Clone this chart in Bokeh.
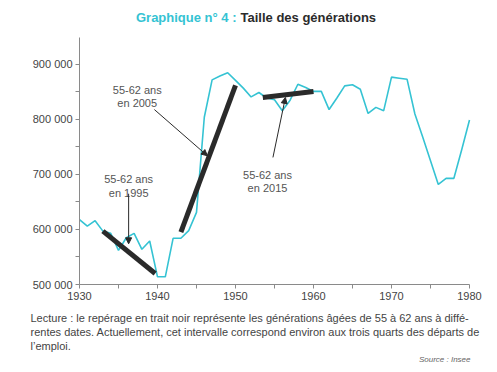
from bokeh.plotting import figure
from bokeh.models import Range1d, FixedTicker, Label, Arrow, NormalHead, ColumnDataSource, LinearAxis
from bokeh.embed import file_html
from bokeh.resources import INLINE

# ---- data ----
years = list(range(1930, 1981))
births = [618000, 606000, 616000, 597000, 593000, 562000, 585000, 593000, 564000, 579000,
          514000, 514000, 584000, 584000, 598000, 631000, 804000, 872000, 879000, 885000,
          871000, 857000, 841000, 849000, 839000, 836000, 816000, 835000, 864000, 858000,
          851000, 851000, 818000, 839000, 861000, 863000, 855000, 811000, 822000, 816000,
          877000, 875000, 873000, 810000, 768000, 725000, 682000, 693000, 693000, 745000,
          799000]

seg_labels = ["55-62 ans en 1995", "55-62 ans en 2005", "55-62 ans en 2015"]
seg_x0 = [1933, 1943, 1953.5]
seg_y0 = [597000, 595000, 840000]
seg_x1 = [1939.7, 1950, 1960]
seg_y1 = [520000, 862000, 851000]

y_ticks = [500000, 600000, 700000, 800000, 900000]
y_tick_labels = ["500 000", "600 000", "700 000", "800 000", "900 000"]
y_minor = [550000, 650000, 750000, 850000]
x_ticks = [1930, 1940, 1950, 1960, 1970, 1980]
x_minor = [1935, 1945, 1955, 1965, 1975]

title_a = "Graphique n° 4 :"
title_b = "Taille des générations"
caption = ["Lecture : le repérage en trait noir représente les générations âgées de 55 à 62 ans à diffé-",
           "rentes dates. Actuellement, cet intervalle correspond environ aux trois quarts des départs de",
           "l’emploi."]
source = "Source : Insee"

CYAN = "#35c3d3"
DARK = "#2a2a2a"
GREY = "#555555"
FONT = "Liberation Sans"

# ---- geometry (pixels) ----
W, H = 489, 364
L, R, T, B = 79, 469, 37, 284          # axis box in pixels
X0, X1, Y0, Y1 = 1930, 1980, 500000, 949000
sx = (R - L) / (X1 - X0)
sy = (B - T) / (Y1 - Y0)


def px2x(px):
    return X0 + (px - L) / sx


def py2y(py):
    return Y0 + (B - py) / sy


p = figure(width=W, height=H, output_backend="svg", toolbar_location=None, title=None,
           x_range=Range1d(px2x(0), px2x(W)), y_range=Range1d(py2y(H), py2y(0)),
           x_axis_type=None, y_axis_type=None,
           min_border_left=0, min_border_right=0, min_border_top=0, min_border_bottom=0)
p.outline_line_color = None
p.xgrid.visible = False
p.ygrid.visible = False

yax = LinearAxis(fixed_location=X0, bounds=(Y0, Y1),
                 ticker=FixedTicker(ticks=y_ticks, minor_ticks=y_minor),
                 major_label_overrides={tk: lb for tk, lb in zip(y_ticks, y_tick_labels)})
xax = LinearAxis(fixed_location=Y0, bounds=(X0, X1),
                 ticker=FixedTicker(ticks=x_ticks, minor_ticks=x_minor))
for ax in (xax, yax):
    ax.axis_line_color = "#8a8a8a"
    ax.major_tick_line_color = "#8a8a8a"
    ax.minor_tick_line_color = "#8a8a8a"
    ax.major_tick_in = 0
    ax.major_tick_out = 4
    ax.minor_tick_in = 0
    ax.minor_tick_out = 4
    ax.major_label_text_font = FONT
    ax.major_label_text_font_size = "11px"
    ax.major_label_text_color = "#444444"
    ax.major_label_standoff = 3
p.add_layout(yax, "left")
p.add_layout(xax, "below")

p.line(years, births, line_color=CYAN, line_width=1.6)

src = ColumnDataSource(dict(x0=seg_x0, y0=seg_y0, x1=seg_x1, y1=seg_y1, name=seg_labels))
p.segment("x0", "y0", "x1", "y1", source=src, line_color=DARK, line_width=5, line_cap="butt")

ann = [
    (1936.3, 679000, "55-62 ans", "en 1995"),
    (1937.4, 842000, "55-62 ans", "en 2005"),
    (1954.1, 687000, "55-62 ans", "en 2015"),
]
for x, y, l1, l2 in ann:
    p.add_layout(Label(x=x, y=y + 12000, text=l1, text_align="center", text_baseline="middle",
                       text_font=FONT, text_font_size="11px", text_color=GREY))
    p.add_layout(Label(x=x, y=y - 12000, text=l2, text_align="center", text_baseline="middle",
                       text_font=FONT, text_font_size="11px", text_color=GREY))

arrows = [
    (1936.3, 665000, 1936.3, 574000),
    (1939.6, 818000, 1946.4, 734000),
    (1954.8, 731000, 1956.4, 840000),
]
for xs, ys, xe, ye in arrows:
    p.add_layout(Arrow(x_start=xs, y_start=ys, x_end=xe, y_end=ye, line_color=DARK, line_width=1,
                       end=NormalHead(size=6, fill_color=DARK, line_color=DARK)))

# ---- title ----
p.add_layout(Label(x=px2x(236), y=py2y(17), text=title_a, text_align="right", text_baseline="middle",
                   text_font=FONT, text_font_size="13px", text_font_style="bold", text_color=CYAN))
p.add_layout(Label(x=px2x(240), y=py2y(17), text=title_b, text_align="left", text_baseline="middle",
                   text_font=FONT, text_font_size="13px", text_font_style="bold", text_color="#2b2b2b"))

# ---- caption ----
for i, line in enumerate(caption):
    p.add_layout(Label(x=px2x(30), y=py2y(317 + 14 * i), text=line, text_align="left",
                       text_baseline="middle", text_font=FONT, text_font_size="11px",
                       text_color="#444444"))
p.add_layout(Label(x=px2x(470), y=py2y(359), text=source, text_align="right", text_baseline="middle",
                   text_font=FONT, text_font_size="8px", text_font_style="italic", text_color="#666666"))

open("out.html", "w").write(file_html(p, INLINE))
